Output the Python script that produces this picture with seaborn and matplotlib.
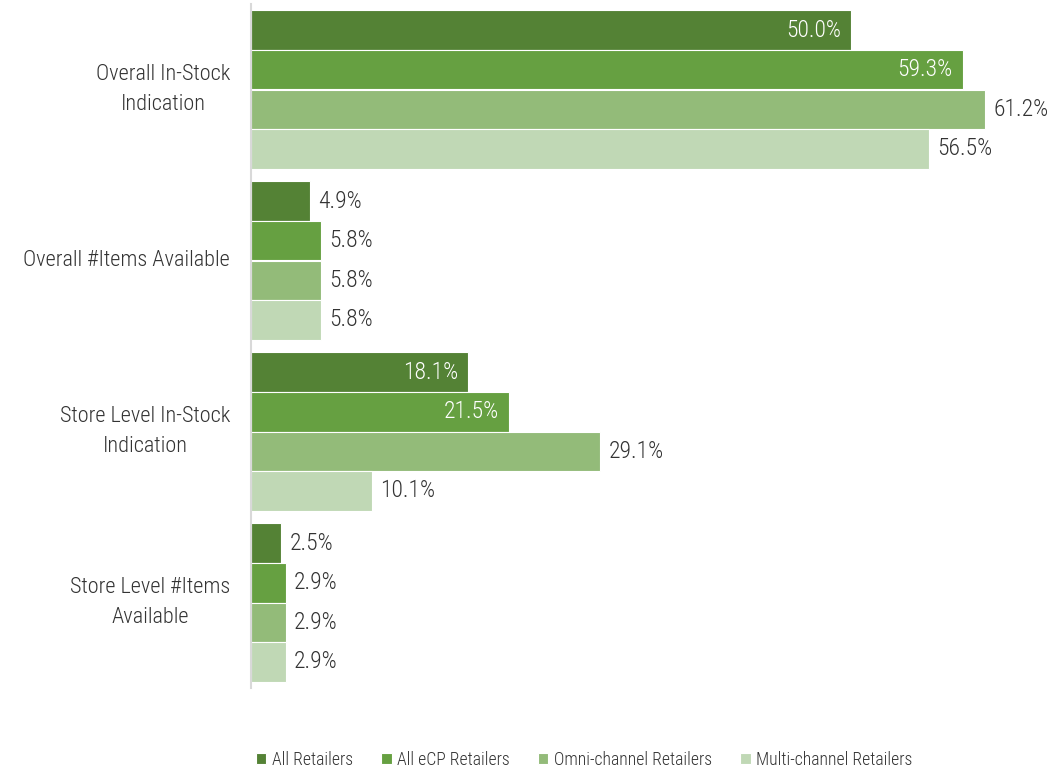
import matplotlib
matplotlib.use("Agg")
import matplotlib.pyplot as plt
import seaborn as sns
import pandas as pd
from matplotlib import font_manager

categories = [
    "Overall In-Stock\nIndication",
    "Overall #Items Available",
    "Store Level In-Stock\nIndication",
    "Store Level #Items\nAvailable",
]
series = ["All Retailers", "All eCP Retailers", "Omni-channel Retailers", "Multi-channel Retailers"]
all_retailers = [50.0, 4.9, 18.1, 2.5]
all_ecp = [59.3, 5.8, 21.5, 2.9]
omni_channel = [61.2, 5.8, 29.1, 2.9]
multi_channel = [56.5, 5.8, 10.1, 2.9]
colors = ["#548235", "#66a041", "#93bb79", "#c0d8b5"]

sns.set_theme(style="white")
installed = {f.name for f in font_manager.fontManager.ttflist}
fam = [f for f in ["Roboto Condensed", "Liberation Sans Narrow", "Roboto", "DejaVu Sans"] if f in installed]
plt.rcParams["font.family"] = fam
plt.rcParams["font.weight"] = "light"

rows = []
for s, vals in zip(series, [all_retailers, all_ecp, omni_channel, multi_channel]):
    for c, v in zip(categories, vals):
        rows.append({"category": c, "series": s, "value": v})
df = pd.DataFrame(rows)

fig = plt.figure(figsize=(10.61, 7.70), dpi=100)
ax = fig.add_axes([251 / 1061, 82 / 770, (1055 - 251) / 1061, 684 / 770])

sns.barplot(data=df, y="category", x="value", hue="series", order=categories,
            hue_order=series, palette=colors, orient="h", width=0.925,
            edgecolor="white", linewidth=0.8, saturation=1, ax=ax)

ax.set_xlim(0, 67)
ax.set_ylim(3.5, -0.5)
ax.set_xlabel("")
ax.set_ylabel("")
ax.set_xticks([])
for side in ["top", "right", "bottom"]:
    ax.spines[side].set_visible(False)
ax.spines["left"].set_color("#d9d9d9")
ax.spines["left"].set_linewidth(1.5)
ax.tick_params(axis="y", length=0, pad=15)
for lbl in ax.get_yticklabels():
    lbl.set_multialignment("center")
    lbl.set_verticalalignment("center")
    lbl.set_fontsize(16)
    lbl.set_fontweight("light")
    lbl.set_linespacing(1.6)
    lbl.set_color("#333333")

# value labels: inside (white) for the wide dark bars, outside otherwise
inside = {(0, 0), (0, 1), (2, 0), (2, 1)}
for si, cont in enumerate(ax.containers):
    for ci, bar in enumerate(cont):
        v = bar.get_width()
        yc = bar.get_y() + bar.get_height() / 2
        txt = f"{v:.1f}%"
        if (ci, si) in inside:
            ax.annotate(txt, (v, yc), xytext=(-7, 0), textcoords="offset points",
                        ha="right", va="center", color="white", fontsize=17,
                        fontweight="light")
        else:
            ax.annotate(txt, (v, yc), xytext=(6, 0), textcoords="offset points",
                        ha="left", va="center", color="#333333", fontsize=17,
                        fontweight="light")

handles, labels = ax.get_legend_handles_labels()
ax.legend_.remove()
fig.legend(handles, labels, loc="center", bbox_to_anchor=(584 / 1061, 1 - 760 / 770),
           ncol=4, frameon=False, handlelength=0.6, handleheight=0.6,
           handletextpad=0.3, columnspacing=1.6, labelcolor="#333333",
           prop={"weight": "light", "size": 12.7})

fig.savefig("out.png", dpi=100)
